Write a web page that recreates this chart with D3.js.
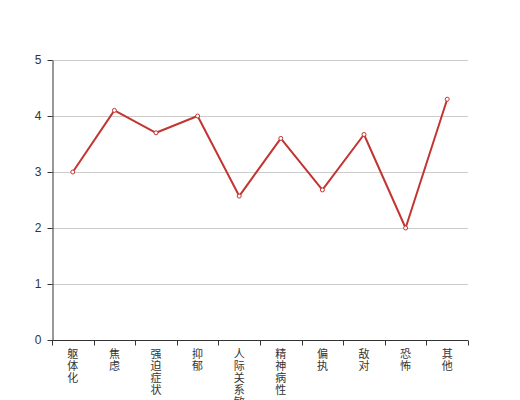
<!DOCTYPE html>
<head>
  <meta charset="utf-8">
  <title>折线图</title>
  <style>
  body { margin: 0; background: #fff; }
  .axis text { font: 12px sans-serif; fill: #333; }
  .axis .lbl text { font: 11px "Noto Sans CJK SC", sans-serif; fill: #333; }
  .axis path, .axis line { stroke: #333; }
  .grid line { stroke: #ccc; }
  </style>
</head>

<svg id="chart"></svg>

<script src="https://cdn.jsdelivr.net/npm/d3@7"></script>
<script>
"use strict";

var categories = ["躯体化", "焦虑", "强迫症状", "抑郁", "人际关系敏感", "精神病性", "偏执", "敌对", "恐怖", "其他"];
var values = [3.0, 4.1, 3.7, 4.0, 2.57, 3.6, 2.68, 3.67, 2.0, 4.3];
var yTicks = [0, 1, 2, 3, 4, 5];

var totalWidth = 520,
    totalHeight = 400;

var svg = d3.select("#chart")
    .attr("width", totalWidth)
    .attr("height", totalHeight);

var margin = {top: 60, right: 52, bottom: 60, left: 52},
    width = totalWidth - margin.left - margin.right,
    height = totalHeight - margin.top - margin.bottom;

var g = svg.append("g")
    .attr("transform", "translate(" + margin.left + "," + margin.top + ")");

var x = d3.scaleBand()
    .domain(categories)
    .range([0, width]);

var y = d3.scaleLinear()
    .domain([0, 5])
    .range([height, 0]);

// linhas de grade
g.append("g")
    .attr("class", "grid")
  .selectAll("line")
  .data(yTicks.slice(1))
  .enter().append("line")
    .attr("x1", 0)
    .attr("x2", width)
    .attr("y1", function(d) { return y(d) + 0.5; })
    .attr("y2", function(d) { return y(d) + 0.5; });

// eixo y
g.append("g")
    .attr("class", "axis axis--y")
    .attr("transform", "translate(0.5,0)")
    .call(d3.axisLeft(y).tickValues(yTicks).tickFormat(d3.format("d"))
      .tickSize(5).tickPadding(6).tickSizeOuter(0));

// eixo x: ticks nas fronteiras das faixas
var xAxis = g.append("g")
    .attr("class", "axis axis--x")
    .attr("transform", "translate(0," + (height + 0.5) + ")");

xAxis.append("line")
    .attr("x1", 0)
    .attr("x2", width);

var bounds = d3.range(categories.length + 1).map(function(i) { return i * x.step(); });
xAxis.selectAll(".tick-b")
  .data(bounds)
  .enter().append("line")
    .attr("class", "tick-b")
    .attr("x1", function(d) { return Math.round(d) + 0.5; })
    .attr("x2", function(d) { return Math.round(d) + 0.5; })
    .attr("y1", 0)
    .attr("y2", 5);

// rótulos verticais, um caractere por linha
var label = xAxis.selectAll(".lbl")
  .data(categories)
  .enter().append("g")
    .attr("class", "lbl")
    .attr("transform", function(d) { return "translate(" + (x(d) + x.bandwidth() / 2) + ",17)"; });

label.selectAll("text")
  .data(function(d) { return d.split(""); })
  .enter().append("text")
    .attr("text-anchor", "middle")
    .attr("y", function(d, i) { return i * 12; })
    .text(function(d) { return d; });

// linha
var line = d3.line()
    .x(function(d, i) { return x(categories[i]) + x.bandwidth() / 2; })
    .y(function(d) { return y(d); });

g.append("path")
    .datum(values)
    .attr("fill", "none")
    .attr("stroke", "#c23531")
    .attr("stroke-width", 2)
    .attr("stroke-linejoin", "round")
    .attr("d", line);

g.selectAll(".pt")
  .data(values)
  .enter().append("circle")
    .attr("class", "pt")
    .attr("cx", function(d, i) { return x(categories[i]) + x.bandwidth() / 2; })
    .attr("cy", function(d) { return y(d); })
    .attr("r", 2)
    .attr("fill", "#fff")
    .attr("stroke", "#c23531")
    .attr("stroke-width", 1);
</script>
